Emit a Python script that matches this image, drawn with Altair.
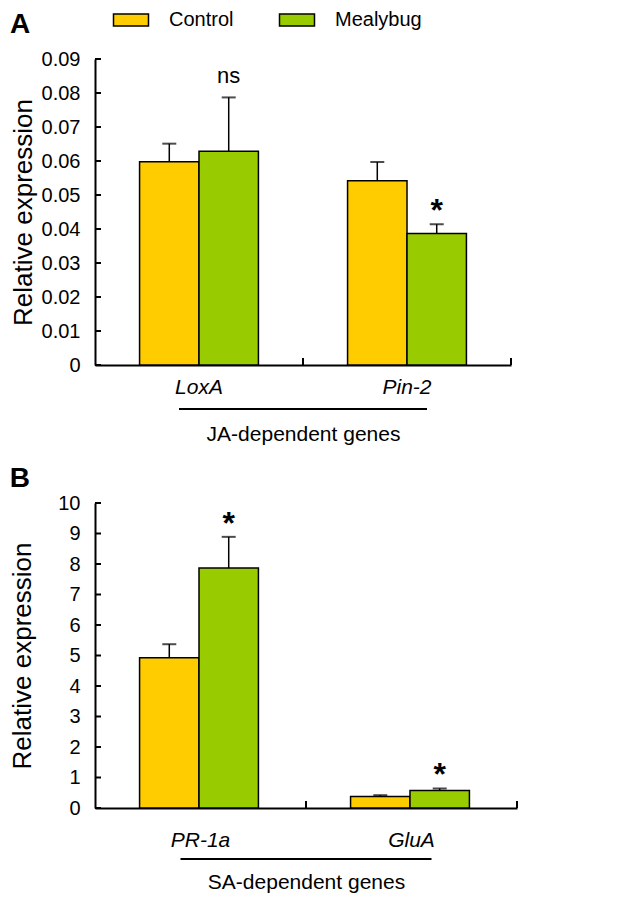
import altair as alt
import pandas as pd

FONT = "Liberation Sans"
groups = ["Control", "Mealybug"]
group_colors = ["#FFCC00", "#99CC00"]

# Panel A (JA-dependent genes)
genes_a = ["LoxA", "Pin-2"]
control_a = [0.0598, 0.0542]
control_err_a = [0.0053, 0.0055]
mealybug_a = [0.0629, 0.0387]
mealybug_err_a = [0.0158, 0.0027]
signif_a = ["ns", "*"]
yticks_a = [0, 0.01, 0.02, 0.03, 0.04, 0.05, 0.06, 0.07, 0.08, 0.09]

# Panel B (SA-dependent genes)
genes_b = ["PR-1a", "GluA"]
control_b = [4.93, 0.38]
control_err_b = [0.44, 0.04]
mealybug_b = [7.87, 0.57]
mealybug_err_b = [1.02, 0.07]
signif_b = ["*", "*"]
yticks_b = [0, 1, 2, 3, 4, 5, 6, 7, 8, 9, 10]


def make_df(genes, c, ce, m, me, sig):
    rows = []
    for i, g in enumerate(genes):
        rows.append(dict(gene=g, group="Control", value=c[i], upper=c[i] + ce[i], sig=""))
        rows.append(dict(gene=g, group="Mealybug", value=m[i], upper=m[i] + me[i], sig=sig[i]))
    return pd.DataFrame(rows)


legend = alt.Legend(
    title=None, orient="none", legendX=26, legendY=-49, direction="horizontal",
    symbolType="M-2,-0.7H2V0.7H-2Z", symbolSize=306, symbolStrokeColor="black",
    symbolStrokeWidth=1.5, symbolOpacity=1, labelFontSize=20, labelFont=FONT,
    labelColor="black", labelOffset=28, columnPadding=42, padding=0,
)


def panel(df, genes, ymax, yticks, label_expr, width, height, group_title, letter,
          label_pad, title_pad, line_y, ytitle_pad, letter_offset):
    x_axis = alt.Axis(title=group_title, labelAngle=0, labelFontStyle="italic", ticks=False,
                      tickSize=0, labelPadding=label_pad, titlePadding=title_pad,
                      labelFont=FONT, labelFontSize=21, titleFont=FONT, titleFontSize=21,
                      domainColor="black", domainWidth=2)
    xscale = alt.Scale(domain=genes, paddingInner=0, paddingOuter=0)
    x = alt.X("gene:N", sort=genes, scale=xscale, axis=x_axis)
    xo = alt.XOffset("group:N", sort=groups,
                     scale=alt.Scale(domain=groups, paddingInner=0, paddingOuter=0.75))
    y_axis_kw = dict(title="Relative expression", values=yticks, ticks=False, tickSize=0,
                     grid=False, labelPadding=15, titlePadding=ytitle_pad,
                     labelFont=FONT, labelFontSize=20, titleFont=FONT, titleFontSize=26,
                     domainColor="black", domainWidth=2)
    if label_expr:
        y_axis_kw["labelExpr"] = label_expr
    y_axis = alt.Axis(**y_axis_kw)
    yscale = alt.Scale(domain=[0, ymax], nice=False, zero=True)
    y = alt.Y("value:Q", scale=yscale, axis=y_axis)
    color = alt.Color("group:N", sort=groups,
                      scale=alt.Scale(domain=groups, range=group_colors), legend=legend)

    base = alt.Chart(df)
    bars = base.mark_bar(stroke="black", strokeWidth=1.5).encode(x=x, xOffset=xo, y=y, color=color)
    err = base.mark_rule(color="black", strokeWidth=1.5).encode(
        x=x, xOffset=xo, y=y, y2="upper:Q")
    caps = base.mark_tick(color="black", thickness=2, size=14).encode(
        x=x, xOffset=xo, y=alt.Y("upper:Q", scale=yscale, axis=y_axis))
    stars = base.transform_filter("datum.sig == '*'").mark_text(
        fontSize=32, fontWeight="bold", baseline="alphabetic", dy=-3, color="black", font=FONT
    ).encode(x=x, xOffset=xo, y=alt.Y("upper:Q", scale=yscale, axis=y_axis), text="sig:N")
    ns = base.transform_filter("datum.sig == 'ns'").mark_text(
        fontSize=22, baseline="alphabetic", dy=-14, color="black", font=FONT
    ).encode(x=x, xOffset=xo, y=alt.Y("upper:Q", scale=yscale, axis=y_axis), text="sig:N")

    ytick_df = pd.DataFrame({"v": yticks})
    ytick_marks = alt.Chart(ytick_df).mark_rule(color="black", strokeWidth=2).encode(
        y=alt.Y("v:Q", scale=yscale, axis=y_axis), x=alt.value(0), x2=alt.value(6))

    gene_df = pd.DataFrame({"gene": genes})
    xtick_marks = alt.Chart(gene_df).mark_rule(color="black", strokeWidth=2).encode(
        x=alt.X("gene:N", sort=genes, scale=xscale, axis=x_axis, bandPosition=1),
        y=alt.value(height), y2=alt.value(height - 7))

    line_df = pd.DataFrame({"g1": [genes[0]], "g2": [genes[-1]]})
    underline = alt.Chart(line_df).mark_rule(
        color="black", strokeWidth=2, xOffset=-20, x2Offset=20).encode(
        x=alt.X("g1:N", sort=genes, scale=xscale, axis=x_axis, bandPosition=0.5),
        x2="g2:N", y=alt.value(line_y))

    return alt.layer(bars, err, caps, stars, ns, ytick_marks, xtick_marks, underline).properties(
        width=width, height=height,
        title=alt.TitleParams(text=letter, anchor="start", frame="bounds", fontSize=28,
                              fontWeight="bold", font=FONT, color="black", offset=letter_offset),
    )


df_a = make_df(genes_a, control_a, control_err_a, mealybug_a, mealybug_err_a, signif_a)
df_b = make_df(genes_b, control_b, control_err_b, mealybug_b, mealybug_err_b, signif_b)

pa = panel(df_a, genes_a, 0.09, yticks_a,
           "datum.value == 0 ? '0' : format(datum.value, '.2f')",
           416, 306, "JA-dependent genes", "A", 11, 26, 306 + 44, 5, 10)
pb = panel(df_b, genes_b, 10, yticks_b, None,
           422, 305, "SA-dependent genes", "B", 21, 21, 305 + 51, 22, 0)

chart = alt.vconcat(pa, pb, spacing=21).configure_view(stroke=None).configure_axis(
    titleFontWeight="normal", labelColor="black", titleColor="black",
).properties(padding={"left": 1, "top": 2, "right": 5, "bottom": 5})

chart.save("out.html", embed_options={"renderer": "svg", "actions": False})
